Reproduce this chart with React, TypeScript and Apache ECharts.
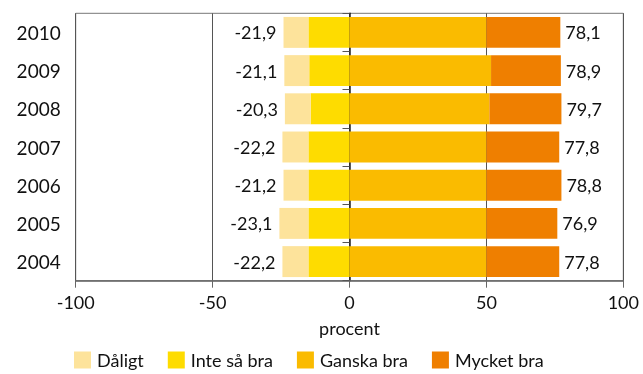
import React, { useEffect, useRef } from "react";
import * as echarts from "echarts";

const years = ["2010", "2009", "2008", "2007", "2006", "2005", "2004"];
const daligt = [-9.1, -9.1, -9.4, -9.5, -9.1, -10.6, -9.5];
const inteSaBra = [-15.0, -14.7, -14.2, -15.0, -15.0, -15.0, -15.0];
const ganskaBra = [50.0, 51.7, 51.1, 50.0, 50.0, 50.0, 50.0];
const mycketBra = [27.0, 25.5, 26.3, 26.6, 27.4, 25.9, 26.6];
const negLabels = ["-21,9", "-21,1", "-20,3", "-22,2", "-21,2", "-23,1", "-22,2"];
const posLabels = ["78,1", "78,9", "79,7", "77,8", "78,8", "76,9", "77,8"];
const xTicks = [-100, -50, 0, 50, 100];

const FONT = "Lato";

export default function App() {
  const ref = useRef<HTMLDivElement>(null);
  useEffect(() => {
    if (!ref.current) return;
    const chart = echarts.init(ref.current, undefined, { renderer: "svg" });
    const base = {
      type: "bar",
      stack: "total",
      barCategoryGap: "19%",
      emphasis: { disabled: true },
    };
    chart.setOption({
      animation: false,
      textStyle: { fontFamily: FONT },
      grid: {
        left: 75.7,
        right: 19.7,
        top: 13.3,
        bottom: 93.3,
        show: true,
        borderColor: "#777",
        borderWidth: 1,
      },
      legend: {
        data: ["Dåligt", "Inte så bra", "Ganska bra", "Mycket bra"],
        left: 74,
        top: 351,
        icon: "rect",
        itemWidth: 17,
        itemHeight: 17,
        itemGap: 24,
        padding: 0,
        textStyle: { fontSize: 18, color: "#111", fontFamily: FONT, padding: [0, 0, 0, 1] },
      },
      xAxis: {
        type: "value",
        min: xTicks[0],
        max: xTicks[xTicks.length - 1],
        interval: 50,
        name: "procent",
        nameLocation: "middle",
        nameGap: 38,
        nameTextStyle: { fontSize: 18, color: "#111", fontFamily: FONT },
        axisLine: { show: true, lineStyle: { color: "#666", width: 1.5 } },
        axisTick: { show: true, length: 7, lineStyle: { color: "#666" } },
        axisLabel: {
          fontSize: 18,
          color: "#111",
          margin: 12,
          fontFamily: FONT,
          formatter: (v: number) => String(v),
        },
        splitLine: { show: true, lineStyle: { color: "#555", width: 1 } },
      },
      yAxis: {
        type: "category",
        data: years,
        inverse: true,
        axisLine: { show: true, lineStyle: { color: "#222", width: 1.5 } },
        axisTick: { show: true, length: 7, alignWithLabel: false, lineStyle: { color: "#555" } },
        axisLabel: { fontSize: 19, color: "#111", margin: 15, fontFamily: FONT },
        splitLine: { show: false },
      },
      series: [
        {
          ...base,
          name: "Inte så bra",
          data: inteSaBra,
          itemStyle: { color: "#FEDC00" },
        },
        {
          ...base,
          name: "Dåligt",
          data: daligt,
          itemStyle: { color: "#FDE39B" },
          label: {
            show: true,
            position: "left",
            distance: 7,
            fontSize: 18,
            color: "#111",
            fontFamily: FONT,
            formatter: (p: any) => negLabels[p.dataIndex],
          },
        },
        {
          ...base,
          name: "Ganska bra",
          data: ganskaBra,
          itemStyle: { color: "#FABB00" },
        },
        {
          ...base,
          name: "Mycket bra",
          data: mycketBra,
          itemStyle: { color: "#EF7F00" },
          label: {
            show: true,
            position: "right",
            distance: 5,
            fontSize: 18,
            color: "#111",
            fontFamily: FONT,
            formatter: (p: any) => posLabels[p.dataIndex],
          },
        },
      ],
    });
    return () => chart.dispose();
  }, []);
  return (
    <div
      ref={ref}
      style={{ position: "fixed", left: 0, top: 0, width: 643, height: 374 }}
    />
  );
}
